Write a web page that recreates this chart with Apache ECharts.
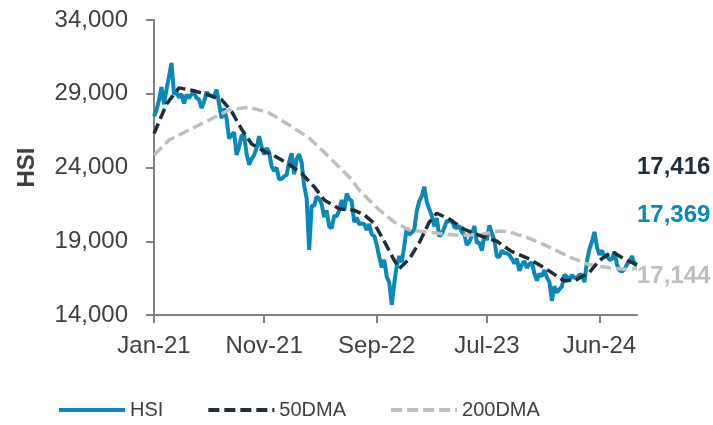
<!DOCTYPE html>
<html>
<head>
<meta charset="utf-8">
<script src="https://cdn.jsdelivr.net/npm/echarts@6/dist/echarts.min.js"></script>
<style>
html,body{margin:0;padding:0;background:#fff;}
#chart{width:713px;height:425px;}
</style>
</head>
<body>
<div id="chart"></div>
<script>
// Weekly HSI closes, Jan-2021 .. mid-Sep-2024
const hsi = [
27472,27878,28573,29447,28283,29289,30173,31085,28980,29098,28740,28990,28336,28939,28698,28970,29078,28725,28610,28027,28458,29124,28918,28842,28801,29288,28310,27344,28004,27321,25961,26179,26391,24849,25407,26163,26205,24920,24192,24575,24837,25331,26126,25377,24870,25327,25049,24080,23766,23996,23193,23224,23398,
23493,24383,24966,23550,24573,24906,24327,22767,21905,18415,21412,21404,22039,21872,21518,20638,21089,20001,19898,20717,20697,21082,21806,21075,22229,21860,21725,20297,20609,20157,20201,20175,19773,20170,19452,19362,18762,17933,17223,17740,16588,16211,14687,16161,17326,17993,17573,18676,19901,19451,19593,19781,
21052,21738,22045,22689,21660,21190,20719,20010,20567,19320,19519,19916,20400,20331,20438,19959,19895,20049,19627,19451,18746,18950,19390,20041,18890,18916,18366,19414,19075,20078,19539,19075,17950,17956,18382,18202,18182,18057,17810,17486,17813,16995,17399,17664,17203,17454,17559,16830,16334,16792,16624,17047,
16535,16244,14961,15952,15533,15747,15944,16726,16589,16353,16721,16499,16541,16724,16722,16224,17651,18476,18964,19636,18609,18080,18367,17942,18028,17719,17800,18293,17418,17022,16946,17090,17430,17612,17989,17444,17369
];
// 50-day moving average, sampled [weekIndex, value]
const dma50 = [
[0,26300],[5,28300],[10,29400],[16,29200],[22,28900],[27,28600],[31,27800],[35,26600],[39,25600],[44,25100],[48,24800],[54,24200],[59,23600],[64,22700],[68,21800],[74,21200],[80,21100],[84,20800],[88,20200],[92,19000],[96,17700],[98,17150],[102,17800],[106,18900],[110,20300],[113,20900],[118,20500],[124,19800],[130,19400],[137,19000],[143,18300],[150,17800],[156,17200],[164,16300],[169,16400],[174,16900],[178,17700],[183,18300],[189,17700],[193,17416]
];
// 200-day moving average, sampled [weekIndex, value]
const dma200 = [
[0,24850],[6,25860],[14,26540],[22,27220],[30,27900],[38,28100],[46,27700],[54,26880],[62,26000],[70,24710],[78,23360],[82,22470],[90,21120],[96,20300],[102,19760],[110,19600],[122,19400],[130,19450],[138,19700],[142,19630],[150,19200],[158,18600],[166,17930],[174,17400],[182,17200],[188,17100],[193,17144]
];
const tickIdx = [0,44,89,133,178];
const tickLabels = ['Jan-21','Nov-21','Sep-22','Jul-23','Jun-24'];
const yTicks = [14000,19000,24000,29000,34000];

// categories: one per weekly sample
const categories = [];
(function(){
  const d = new Date(Date.UTC(2021,0,4));
  for (let i = 0; i < hsi.length; i++) {
    const t = new Date(d.getTime() + i*7*86400000);
    categories.push(t.toISOString().slice(0,10));
  }
})();

const fmt = v => Math.round(v).toLocaleString('en-US');
const FONT = '"Liberation Sans", Arial, sans-serif';
const TXT = '#404040';
const BLUE = '#0a88b9', NAVY = '#1f2e3d', GREY = '#bfbfbf';
const lastVal = p => Array.isArray(p.value) ? p.value[1] : p.value;

const chart = echarts.init(document.getElementById('chart'), null, {renderer:'canvas'});
chart.setOption({
  animation: false,
  backgroundColor: '#fff',
  textStyle: {fontFamily: FONT},
  grid: {left:154, right:76, top:20, bottom:110, containLabel:false},
  legend: {
    left: 52, top: 395, itemWidth: 66, itemHeight: 14, itemGap: 43,
    itemStyle: {opacity: 0},
    lineStyle: {width: 4},
    textStyle: {fontSize: 20, color: TXT, fontFamily: FONT},
    data: ['HSI','50DMA','200DMA']
  },
  xAxis: {
    type: 'category', data: categories, boundaryGap: false,
    axisLine: {lineStyle: {color:'#808080', width:2}},
    axisTick: {show:true, length:8, lineStyle:{color:'#808080', width:2},
               interval: (i) => tickIdx.indexOf(i) >= 0},
    axisLabel: {
      interval: (i) => tickIdx.indexOf(i) >= 0,
      formatter: (v, i) => tickLabels[tickIdx.indexOf(i)] || '',
      fontSize: 24, color: TXT, fontFamily: FONT, margin: 19
    },
    splitLine: {show:false}
  },
  yAxis: {
    type: 'value', min: yTicks[0], max: yTicks[yTicks.length-1], interval: 5000,
    name: 'HSI', nameLocation: 'middle', nameGap: 115, nameRotate: 90,
    nameTextStyle: {fontSize: 24, fontWeight: 'bold', color: TXT, fontFamily: FONT},
    axisLine: {show:true, lineStyle: {color:'#808080', width:2}},
    axisTick: {show:true, length:8, lineStyle:{color:'#808080', width:2}},
    axisLabel: {formatter: v => fmt(v), fontSize: 24, color: TXT, fontFamily: FONT, margin: 26},
    splitLine: {show:false}
  },
  series: [
    {
      name: 'HSI', type: 'line', data: hsi, symbol: 'none', z: 2,
      lineStyle: {color: BLUE, width: 4}, itemStyle: {color: BLUE},
      endLabel: {show:true, formatter: p => fmt(lastVal(p)), distance: 0, offset: [0,-50],
                 fontSize: 24, fontWeight: 'bold', color: BLUE, fontFamily: FONT}
    },
    {
      name: '200DMA', type: 'line', data: dma200, symbol: 'none', z: 3,
      lineStyle: {color: GREY, width: 3.5, type: [11,5]}, itemStyle: {color: GREY},
      endLabel: {show:true, formatter: p => fmt(lastVal(p)), distance: 0, offset: [0,8],
                 fontSize: 24, fontWeight: 'bold', color: GREY, fontFamily: FONT}
    },
    {
      name: '50DMA', type: 'line', data: dma50, symbol: 'none', z: 4,
      lineStyle: {color: NAVY, width: 3.5, type: [11,5]}, itemStyle: {color: NAVY},
      endLabel: {show:true, formatter: p => fmt(lastVal(p)), distance: 0, offset: [0,-97],
                 fontSize: 24, fontWeight: 'bold', color: NAVY, fontFamily: FONT}
    }
  ]
});
</script>
</body>
</html>
